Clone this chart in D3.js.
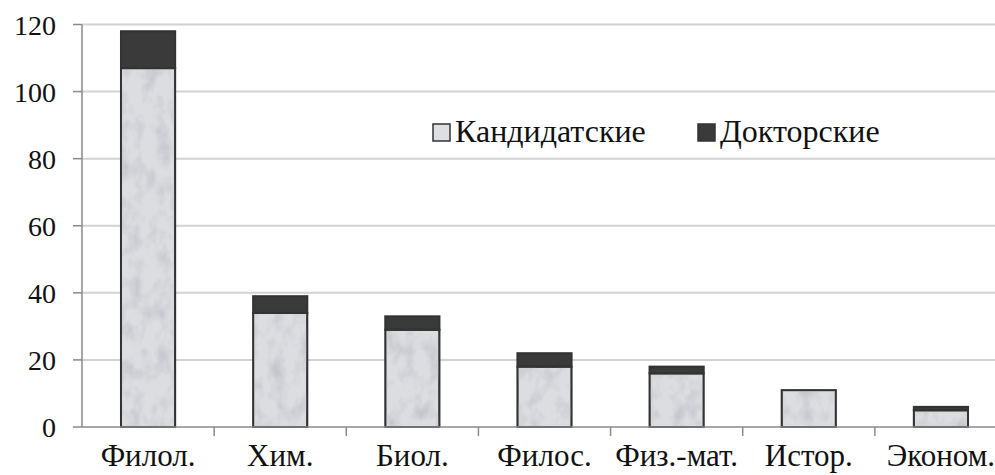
<!DOCTYPE html>
<html><head><meta charset="utf-8">
<script src="https://cdn.jsdelivr.net/npm/d3@7/dist/d3.min.js"></script>
</head><body style="margin:0">
<script>
const categories = ["Филол.", "Хим.", "Биол.", "Филос.", "Физ.-мат.", "Истор.", "Эконом."];
const candidate = [107, 34, 29, 18, 16, 11, 5];
const doctoral = [11, 5, 4, 4, 2, 0, 1];
const seriesNames = ["Кандидатские", "Докторские"];
const yTicks = [0, 20, 40, 60, 80, 100, 120];

const W = 995, H = 475;
const m = {left: 82, top: 24.5};
const plotRight = 1007;
const svg = d3.select("body").append("svg").attr("width", W).attr("height", H);

const defs = svg.append("defs");
const f = defs.append("filter").attr("id", "marble").attr("x", 0).attr("y", 0).attr("width", 1).attr("height", 1);
f.append("feTurbulence").attr("type", "fractalNoise").attr("baseFrequency", "0.07 0.05").attr("numOctaves", 3).attr("seed", 4).attr("result", "n");
f.append("feColorMatrix").attr("in", "n").attr("type", "matrix")
  .attr("values", "0 0 0 0 0.55  0 0 0 0 0.56  0 0 0 0 0.6  2.2 0 0 0 -0.95").attr("result", "c");
f.append("feComposite").attr("in", "c").attr("in2", "SourceGraphic").attr("operator", "in").attr("result", "t");
const mg = f.append("feMerge");
mg.append("feMergeNode").attr("in", "SourceGraphic");
mg.append("feMergeNode").attr("in", "t");

const x = d3.scaleBand().domain(categories).range([m.left, plotRight]).paddingInner(0.59).paddingOuter(0.295);
const y = d3.scaleLinear().domain([0, 120]).range([427, m.top]);
const xb = d3.scaleBand().domain(categories).range([m.left, plotRight]);

function serif(sel, size) {
  sel.attr("font-family", "Times New Roman")
     .attr("style", `font-family: 'Times New Roman'; font-size: ${size}px; fill: #111`);
}

// gridlines
svg.selectAll("line.grid").data(yTicks.slice(1)).join("line").attr("class", "grid")
  .attr("x1", m.left).attr("x2", plotRight).attr("y1", d => y(d)).attr("y2", d => y(d))
  .attr("stroke", "#d2d2d2").attr("stroke-width", 2);

// y axis
svg.append("line").attr("x1", m.left).attr("x2", m.left).attr("y1", y(0)).attr("y2", y(120))
  .attr("stroke", "#8a8a8a").attr("stroke-width", 1.5);
svg.selectAll("line.yt").data(yTicks).join("line").attr("class", "yt")
  .attr("x1", m.left - 9).attr("x2", m.left).attr("y1", d => y(d)).attr("y2", d => y(d))
  .attr("stroke", "#8a8a8a").attr("stroke-width", 1.5);
svg.selectAll("text.yl").data(yTicks).join("text").attr("class", "yl")
  .attr("x", m.left - 26).attr("y", d => y(d) + 10).attr("text-anchor", "end")
  .call(serif, 28)
  .text(d => d);

// bars
const stackData = categories.map((c, i) => ({cat: c, cand: candidate[i], doc: doctoral[i]}));
const stack = d3.stack().keys(["cand", "doc"])(stackData);
const fills = ["#dcdde0", "#3a3a3a"];
stack.forEach((layer, li) => {
  svg.selectAll("rect.s" + li).data(layer.filter(d => d[1] > d[0])).join("rect").attr("class", "s" + li)
    .attr("x", d => x(d.data.cat)).attr("width", x.bandwidth())
    .attr("y", d => y(d[1])).attr("height", d => y(d[0]) - y(d[1]))
    .attr("fill", fills[li]).attr("stroke", "#333").attr("stroke-width", 2)
    .attr("filter", li === 0 ? "url(#marble)" : null);
});
svg.selectAll("rect.ol").data(stack[0]).join("rect").attr("class", "ol")
  .attr("x", d => x(d.data.cat)).attr("width", x.bandwidth())
  .attr("y", d => y(d[1])).attr("height", d => y(d[0]) - y(d[1]))
  .attr("fill", "none").attr("stroke", "#333").attr("stroke-width", 2);

// x axis
svg.append("line").attr("x1", m.left).attr("x2", plotRight).attr("y1", 427).attr("y2", 427)
  .attr("stroke", "#8a8a8a").attr("stroke-width", 1.5);
svg.selectAll("line.xt").data(categories.slice(1)).join("line").attr("class", "xt")
  .attr("x1", d => xb(d)).attr("x2", d => xb(d)).attr("y1", 427).attr("y2", 436)
  .attr("stroke", "#8a8a8a").attr("stroke-width", 1.5);
svg.selectAll("text.xl").data(categories).join("text").attr("class", "xl")
  .attr("x", d => xb(d) + xb.bandwidth() / 2).attr("y", 466)
  .attr("text-anchor", "middle").call(serif, 31)
  .text(d => d);

// legend
const legX = [433, 698];
svg.selectAll("rect.lg").data(seriesNames).join("rect").attr("class", "lg")
  .attr("x", (d, i) => legX[i]).attr("y", 124).attr("width", 17).attr("height", 17)
  .attr("fill", (d, i) => i === 0 ? "#dedfe2" : "#3a3a3a").attr("stroke", "#333").attr("stroke-width", 1.5);
svg.selectAll("text.lg").data(seriesNames).join("text").attr("class", "lg")
  .attr("x", (d, i) => legX[i] + 22).attr("y", 142)
  .call(serif, 32).text(d => d);
</script>
</body></html>
